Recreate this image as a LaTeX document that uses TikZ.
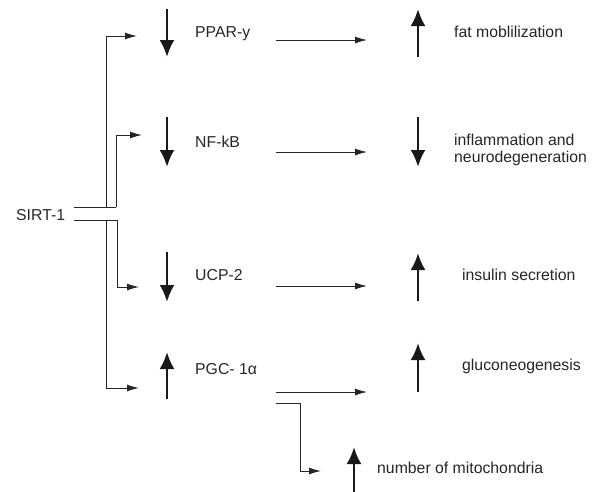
\documentclass[tikz,border=0pt]{standalone}
\usepackage{fontspec}
\setmainfont{Liberation Sans}
\usetikzlibrary{arrows.meta}
\begin{document}
\begin{tikzpicture}[x=1pt,y=-1pt,
  lbl/.style={font=\fontsize{15.8}{17.7}\selectfont, text=black!85, inner sep=0pt, anchor=base west},
  thinline/.style={line width=1pt, draw=black!85},
  conn/.style={thinline, -{Latex[length=12pt,width=7pt]}},
  bigarrow/.style={line width=2.6pt, draw=black!90, -{Latex[length=17pt,width=15pt]}}]
\useasboundingbox (0,0) rectangle (595,491);
% labels
\node[lbl] (sirt) at (16,220) {SIRT-1};
\node[lbl] (ppar) at (195,37) {PPAR-y};
\node[lbl] (nfkb) at (195,147) {NF-kB};
\node[lbl] (ucp) at (195,280) {UCP-2};
\node[lbl] (pgc) at (195,374) {PGC- 1α};
\node[lbl] (fat) at (454,37) {fat moblilization};
\node[lbl, anchor=west, align=left] (infl) at (454,150) {inflammation and\\neurodegeneration};
\node[lbl] (ins) at (462,280) {insulin secretion};
\node[lbl] (glu) at (462,370) {gluconeogenesis};
\node[lbl] (mito) at (377,473) {number of mitochondria};
% connector anchors
\coordinate (st) at (74,207);
\coordinate (sb) at (74,220);
\coordinate (pparin) at (137,36);
\coordinate (nfin) at (142,135);
\coordinate (ucpin) at (139,287);
\coordinate (pgcin) at (139,388);
\coordinate (pparout) at (276,40);
\coordinate (nfout) at (276,152);
\coordinate (ucpout) at (276,286);
\coordinate (pgcout) at (276,392);
\coordinate (pgcout2) at (276,403);
\coordinate (fatin) at (367,40);
\coordinate (inflin) at (367,152);
\coordinate (insin) at (367,286);
\coordinate (gluin) at (367,392);
\coordinate (mitoin) at (321,471);
% SIRT-1 branches
\draw[conn] (st) -- (106,207) -- (106,36) -- (pparin);
\draw[thinline] (106,207) -- (116,207);
\draw[conn] (116,207) -- (116,135) -- (nfin);
\draw[conn] (sb) -- (117.5,220) -- (117.5,287) -- (ucpin);
\draw[conn] (106,220) -- (106,388) -- (pgcin);
% effect arrows
\draw[conn] (pparout) -- (fatin);
\draw[conn] (nfout) -- (inflin);
\draw[conn] (ucpout) -- (insin);
\draw[conn] (pgcout) -- (gluin);
\draw[conn] (pgcout2) -- (300,403) -- (300,471) -- (mitoin);
% up/down indicators
\draw[bigarrow] (167,9) -- (167,57);
\draw[bigarrow] (167,117) -- (167,167);
\draw[bigarrow] (167,252) -- (167,302);
\draw[bigarrow] (167,399) -- (167,352);
\draw[bigarrow] (418,57) -- (418,9);
\draw[bigarrow] (418,117) -- (418,167);
\draw[bigarrow] (418,301) -- (418,253);
\draw[bigarrow] (418,392) -- (418,343);
\draw[bigarrow] (354,492) -- (354,447);
\end{tikzpicture}
\end{document}
